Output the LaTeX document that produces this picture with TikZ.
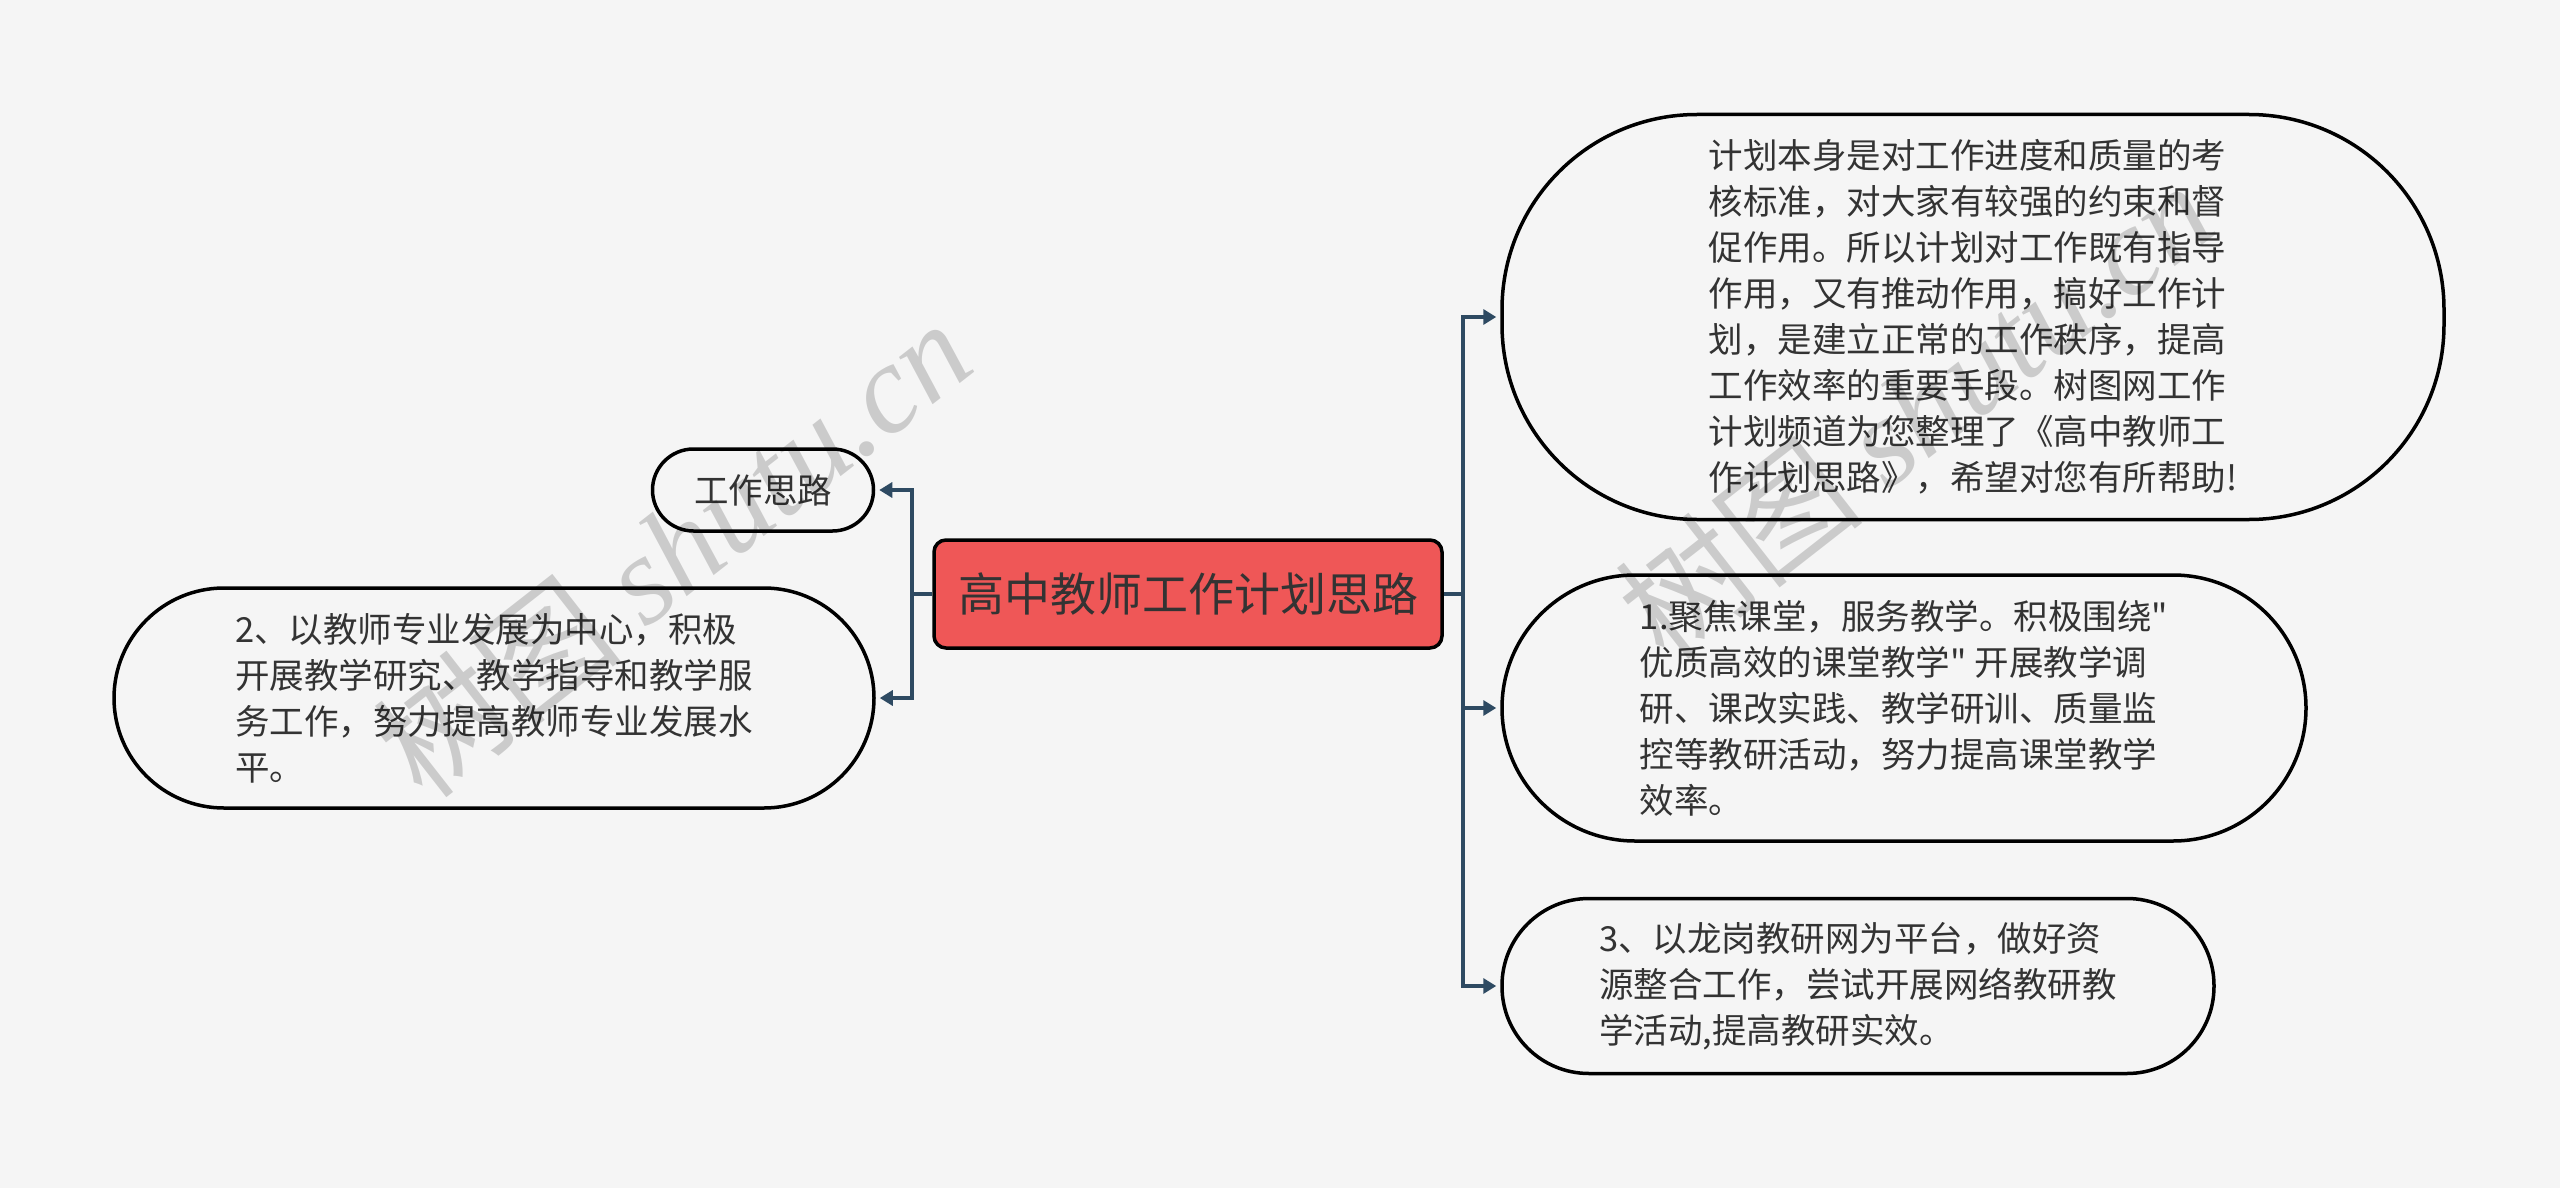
\documentclass[tikz,border=0pt]{standalone}
\usepackage{fontspec}
\setmainfont{Noto Sans CJK SC}[Ligatures=TeXOff]
\newfontfamily\wmserif{Liberation Serif}
\usetikzlibrary{arrows.meta}
\definecolor{bg}{HTML}{F5F5F5}
\definecolor{rootred}{HTML}{EF5757}
\definecolor{conncol}{HTML}{2E4A62}
\definecolor{txt}{HTML}{333333}
\begin{document}
\begin{tikzpicture}[x=1pt,y=-1pt,
  box/.style={draw=black, line width=3.5pt, fill=bg, text=txt, align=left, inner sep=0pt},
  bodytext/.style={font=\fontsize{34.5}{46}\selectfont},
  link/.style={draw=conncol, line width=4pt, shorten >=4pt, -{Triangle[length=13pt,width=15pt]}},
  wm/.style={text=black, opacity=0.17, font=\fontsize{126}{130}\selectfont, inner sep=0pt},
]
\useasboundingbox (0,0) rectangle (2560,1188);
\fill[bg] (0,0) rectangle (2560,1188);

\node[box, fill=rootred, rounded corners=12pt, minimum width=508pt, minimum height=108pt,
      align=center, font=\fontsize{46}{56}\selectfont] (root) at (1188,594) {高中教师工作计划思路};

\node[box, bodytext, rounded corners=41pt, minimum width=221pt, minimum height=82pt] (t1) at (763,490) {工作思路};

\node[box, bodytext, rounded corners=110pt, minimum width=760pt, minimum height=220pt] (n2) at (494,698)
  {2、以教师专业发展为中心，积极\\开展教学研究、教学指导和教学服\\务工作，努力提高教师专业发展水\\平。};

\node[box, bodytext, rounded corners=195pt, minimum width=942pt, minimum height=405pt] (nA) at (1973,317)
  {计划本身是对工作进度和质量的考\\核标准，对大家有较强的约束和督\\促作用。所以计划对工作既有指导\\作用，又有推动作用，搞好工作计\\划，是建立正常的工作秩序，提高\\工作效率的重要手段。树图网工作\\计划频道为您整理了《高中教师工\\作计划思路》，希望对您有所帮助!};

\node[box, bodytext, rounded corners=133pt, minimum width=804pt, minimum height=266pt] (nB) at (1904,708)
  {1.聚焦课堂，服务教学。积极围绕"\\优质高效的课堂教学" 开展教学调\\研、课改实践、教学研训、质量监\\控等教研活动，努力提高课堂教学\\效率。};

\node[box, bodytext, rounded corners=87pt, minimum width=712pt, minimum height=175pt] (nC) at (1858,986)
  {3、以龙岗教研网为平台，做好资\\源整合工作，尝试开展网络教研教\\学活动,提高教研实效。};

\coordinate (rj) at (1463,594);
\coordinate (lj) at (912,594);
\draw[link] (root.east) -- (rj) |- (nA.west);
\draw[link] (root.east) -- (rj) |- (nB.west);
\draw[link] (root.east) -- (rj) |- (nC.west);
\draw[link] (root.west) -- (lj) |- (t1.east);
\draw[link] (root.west) -- (lj) |- (n2.east);

\node[wm, rotate=38] (wm1) at (672,548) {树图 {\wmserif\itshape shutu.cn}};
\node[wm, rotate=38] (wm2) at (1914,410) {树图 {\wmserif\itshape shutu.cn}};
\end{tikzpicture}
\end{document}
